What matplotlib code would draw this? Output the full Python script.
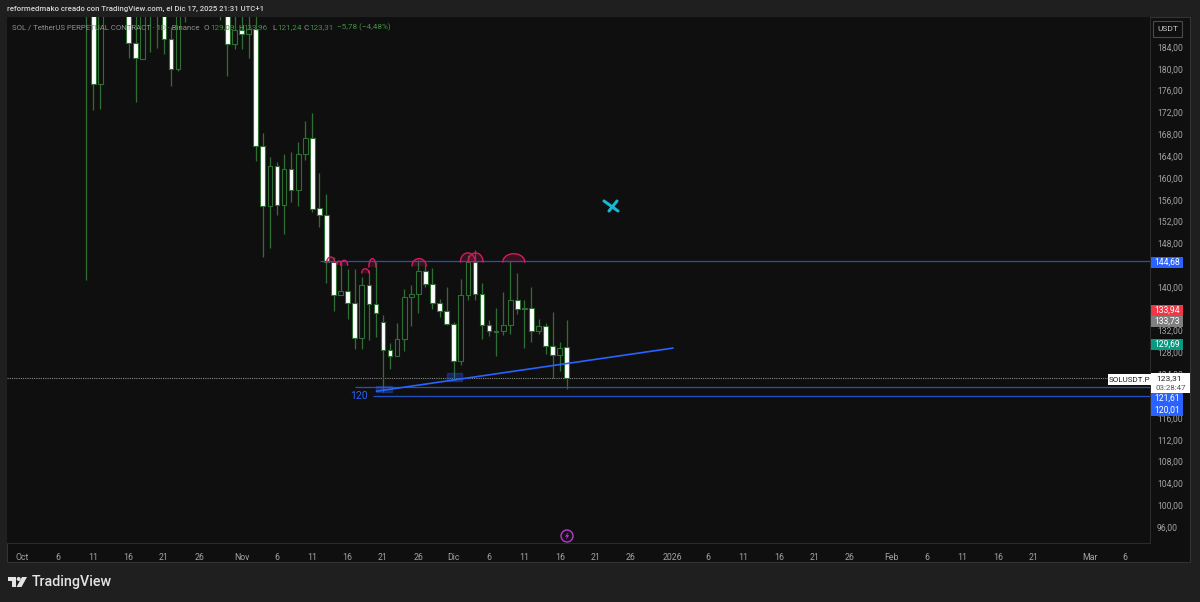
#!/usr/bin/env python
import numpy as np
from matplotlib import pyplot as plt
from matplotlib.patches import Rectangle, Circle, Polygon

plt.rcParams["font.family"] = ["Roboto", "DejaVu Sans"]

# days counted from Oct 1, 2025. candles above the visible range are estimates
days = list(range(9, 78))
opens = [220.0, 196.0, 177.2, 195.0, 200.0, 202.0, 194.0, 184.7, 181.8, 194.0, 192.0, 195.0, 185.5, 180.0, 193.0,
         198.0, 200.0, 202.0, 199.0, 196.0, 194.0, 184.6, 187.1, 186.4, 187.3, 165.9, 154.9, 162.2, 155.0, 161.6,
         157.8, 164.4, 167.3, 154.5, 153.2, 144.6, 138.5, 139.3, 137.0, 130.6, 140.4, 136.9, 133.6, 128.5, 127.4,
         130.5, 138.2, 138.8, 142.9, 140.6, 137.1, 135.6, 133.2, 126.4, 138.5, 144.6, 138.7, 133.0, 131.9, 131.9,
         133.0, 137.7, 136.0, 136.2, 132.0, 132.9, 129.2, 127.5, 129.09]
highs = [223.0, 198.0, 198.0, 204.0, 206.0, 206.0, 197.0, 190.0, 195.0, 197.0, 198.0, 198.0, 187.7, 194.0, 199.0,
         204.0, 206.0, 205.0, 203.0, 200.0, 197.0, 192.0, 190.0, 190.0, 192.0, 168.2, 163.8, 162.9, 164.4, 164.8,
         166.6, 170.4, 171.9, 160.9, 157.0, 145.5, 144.4, 143.3, 143.3, 141.9, 143.1, 144.6, 134.9, 129.7, 133.4,
         139.6, 140.4, 144.9, 144.0, 143.5, 137.8, 140.0, 133.6, 141.5, 145.9, 146.8, 140.7, 134.0, 136.2, 139.1,
         144.8, 142.6, 137.6, 140.0, 134.1, 133.4, 135.4, 129.9, 133.96]
lows = [141.3, 172.4, 172.6, 192.0, 193.0, 192.0, 182.0, 174.0, 181.8, 183.1, 183.8, 182.7, 176.9, 179.6, 188.6,
        192.0, 194.0, 193.0, 191.0, 188.9, 178.6, 183.6, 183.6, 182.0, 163.1, 145.5, 147.1, 153.2, 149.7, 155.6,
        154.9, 163.3, 153.8, 151.0, 140.7, 135.6, 138.5, 134.1, 128.6, 128.6, 130.3, 130.8, 120.8, 125.0, 127.4,
        128.3, 132.9, 135.2, 140.0, 136.0, 134.5, 133.0, 122.9, 125.7, 137.6, 137.6, 130.5, 131.0, 127.4, 131.2,
        131.4, 135.0, 128.8, 129.9, 131.4, 127.7, 123.3, 124.6, 121.24]
closes = [196.0, 177.2, 195.0, 200.0, 202.0, 194.0, 184.7, 182.0, 194.0, 196.0, 195.0, 185.5, 180.0, 193.0, 198.0,
          200.0, 202.0, 199.0, 196.0, 194.0, 184.6, 187.1, 186.4, 187.3, 165.9, 154.9, 162.2, 155.0, 161.6, 157.8,
          164.4, 167.3, 154.3, 153.2, 144.6, 138.5, 139.3, 137.0, 130.6, 140.4, 136.9, 135.2, 128.5, 127.4, 130.5,
          138.2, 138.8, 142.9, 140.6, 137.1, 135.6, 133.2, 126.4, 138.5, 144.6, 138.7, 133.0, 131.9, 131.8, 133.0,
          137.7, 136.0, 136.2, 132.0, 132.9, 129.2, 127.5, 128.9, 123.31]

price_ticks = list(range(96, 188, 4))
hidden_price_ticks = [120, 136, 144]
date_tick_days = [0, 5, 10, 15, 20, 25, 31, 36, 41, 46, 51, 56, 61, 66, 71, 76, 81, 86, 92, 97, 102, 107, 112, 117,
                  123, 128, 133, 138, 143, 151, 156]
date_tick_labels = ["Oct", "6", "11", "16", "21", "26", "Nov", "6", "11", "16", "21", "26", "Dic", "6", "11", "16",
                    "21", "26", "2026", "6", "11", "16", "21", "26", "Feb", "6", "11", "16", "21", "Mar", "6"]

# drawings on the chart
levels = [144.68, 121.61, 120.01]
level_starts = [42.1, 47.0, 49.6]
trend_days = [50.1, 92.0]
trend_prices = [120.9, 128.8]
box_days = [(50.0, 52.3), (60.0, 62.2)]
box_prices = [(120.8, 121.9), (122.8, 124.2)]
arc_days = [43.6, 44.8, 45.5, 49.5, 48.5, 56.1, 63.0, 64.1, 69.5]
arc_bases = [144.6, 144.2, 144.0, 143.7, 142.6, 143.9, 144.6, 144.6, 144.6]
arc_widths = [1.1, 0.6, 1.0, 1.0, 1.0, 2.0, 2.1, 2.1, 3.1]
arc_heights = [0.9, 0.55, 0.9, 1.5, 0.75, 1.3, 1.65, 1.65, 1.5]
last_price = closes[-1]

BG = "#1f1f1f"
PANE = "#0f0f0f"
GRID = "#2b2b2b"
WICK = "#2f6f33"
LABEL = "#a3a3a3"
BLUE = "#2962ff"
LINE_BLUE = "#2350c4"
GREEN = "#3f9142"


def comma(v):
    return "{:.2f}".format(v).replace(".", ",")


fig = plt.figure(figsize=(12, 6.02), dpi=100, facecolor=BG)
W, H = 1200.0, 602.0

# outer chrome in pixel coordinates
back = fig.add_axes([0, 0, 1, 1], zorder=0)
back.set_xlim(0, W)
back.set_ylim(H, 0)
back.axis("off")
back.add_patch(Rectangle((7, 17), 1183, 545, fc=PANE, ec="#333333", lw=0.8))

ax = fig.add_axes([7 / W, 1 - 543 / H, (1150 - 7) / W, (543 - 17) / H], zorder=1)
ax.set_facecolor(PANE)
ax.set_xlim(-2.19, 159.5)
ax.set_ylim(93.07, 189.5)
for side in ax.spines:
    ax.spines[side].set_visible(False)
ax.spines["bottom"].set_visible(True)
ax.spines["right"].set_visible(True)
ax.spines["bottom"].set_color(GRID)
ax.spines["right"].set_color(GRID)

ax.yaxis.tick_right()
shown = [p for p in price_ticks if p not in hidden_price_ticks]
ax.set_yticks(shown)
ax.set_yticklabels([comma(p) for p in shown], fontsize=6.2, color=LABEL)
ax.set_xticks(date_tick_days)
ax.set_xticklabels(date_tick_labels, fontsize=6.3, color=LABEL)
ax.tick_params(axis="y", length=0, pad=5)
ax.tick_params(axis="x", length=0, pad=7)

# candles
for d, o, h, l, c in zip(days, opens, highs, lows, closes):
    ax.vlines(d, l, h, color=WICK, lw=0.9, zorder=2)
    face = "white" if c < o else PANE
    ax.add_patch(Rectangle((d - 0.33, min(o, c)), 0.66, max(abs(c - o), 0.12), fc=face, ec=WICK, lw=0.8, zorder=3))

# drawings
ax.hlines(last_price, -2.19, 153.5, color="#8a8a8a", lw=0.8, linestyles=(0, (1, 1)), zorder=1)
for level, start in zip(levels, level_starts):
    ax.hlines(level, start, 159.5, color=LINE_BLUE, lw=0.9, zorder=4)
ax.plot(trend_days, trend_prices, color=BLUE, lw=1.2, zorder=5)
for (x0, x1), (y0, y1) in zip(box_days, box_prices):
    ax.add_patch(Rectangle((x0, y0), x1 - x0, y1 - y0, fc=BLUE, ec=BLUE, alpha=0.3, lw=1.0, zorder=4))
for d, b, w, h in zip(arc_days, arc_bases, arc_widths, arc_heights):
    t = np.linspace(0, np.pi, 30)
    xs = d + w / 2 * np.cos(t)
    ys = b + h * np.sin(t)
    ax.fill_between(xs, b, ys, color="#d81b60", alpha=0.2, lw=0, zorder=4)
    ax.plot(xs, ys, color="#d81b60", lw=1.0, zorder=5)
ax.text(47.6, 120.0, "120", color=BLUE, fontsize=7.6, va="center", ha="center", zorder=6)

# front layer: labels, ribbons, logo
top = fig.add_axes([0, 0, 1, 1], zorder=2)
top.set_xlim(0, W)
top.set_ylim(H, 0)
top.axis("off")
top.patch.set_alpha(0)

top.text(7, 9, "reformedmako creado con TradingView.com, el Dic 17, 2025 21:31 UTC+1", color="#d6d6d6", fontsize=5.6,
         va="center", fontweight="medium")
top.text(12, 27.5, "SOL / TetherUS PERPETUAL CONTRACT · 1D · Binance", color="#8f8f8f", fontsize=5.6, va="center")
for x, s, col in [(204, "O", "#8f8f8f"), (210, comma(opens[-1]), GREEN), (238, "H", "#8f8f8f"),
                  (243, comma(highs[-1]), GREEN), (272, "L", "#8f8f8f"), (277, comma(lows[-1]), GREEN),
                  (303, "C", "#8f8f8f"), (309, comma(closes[-1]), GREEN),
                  (337, "−5,78 (−4,48%)", GREEN)]:
    top.text(x, 27.5, s, color=col, fontsize=5.9, va="center")

top.add_patch(Rectangle((1153, 21), 29, 16, fc=PANE, ec="#4a4a4a", lw=0.8))
top.text(1167.5, 29, "USDT", color="#c8c8c8", fontsize=6.0, ha="center", va="center")

ribbons = [(257, 268, BLUE, levels[0], "white"), (305, 316, "#f23645", 133.94, "white"),
           (316, 327, "#7f7f7f", 133.73, "white"), (339, 350, "#089981", 129.69, "white"),
           (393, 404, BLUE, levels[1], "white"), (404, 416, BLUE, levels[2], "white")]
for y0, y1, col, val, tc in ribbons:
    top.add_patch(Rectangle((1151, y0), 32, y1 - y0, fc=col, ec="none"))
    top.text(1167, (y0 + y1) / 2, comma(val), color=tc, fontsize=6.2, ha="center", va="center")

top.add_patch(Rectangle((1151, 373), 39, 20, fc="white", ec="none"))
top.text(1156, 378.5, comma(last_price), color="#222222", fontsize=6.1, va="center")
top.text(1156, 387.5, "03:28:47", color="#555555", fontsize=5.7, va="center")
top.add_patch(Rectangle((1108, 374), 43, 10.5, fc="white", ec="none"))
top.text(1129.5, 379.5, "SOLUSDT.P", color="#222222", fontsize=5.8, ha="center", va="center")

# cross mark
top.plot([604, 618], [201, 211], color="#18b6d2", lw=2.2, solid_capstyle="round")
top.plot([617, 609], [201, 211], color="#18b6d2", lw=2.2, solid_capstyle="round")

# event icon on the time scale
top.add_patch(Circle((567, 536), 6, fc="#1a0f1f", ec="#b13fc4", lw=1.0))
top.add_patch(Polygon([(568.5, 532), (565, 536.6), (567, 536.6), (565.8, 540), (569.2, 535.2), (567.2, 535.2)],
                      fc="#b13fc4", ec="none"))

# logo
logo = "#e4e4e4"
top.add_patch(Polygon([(8, 577), (16, 577), (16, 587), (12, 587), (12, 581), (8, 581)], fc=logo, ec="none"))
top.add_patch(Circle((18.7, 579), 2.0, fc=logo, ec="none"))
top.add_patch(Polygon([(22, 577), (27, 577), (21.5, 587), (16.5, 587)], fc=logo, ec="none"))
top.text(32, 582, "TradingView", color=logo, fontsize=10.3, va="center", fontweight="medium")

fig.savefig("out.png", dpi=100, facecolor=BG)
